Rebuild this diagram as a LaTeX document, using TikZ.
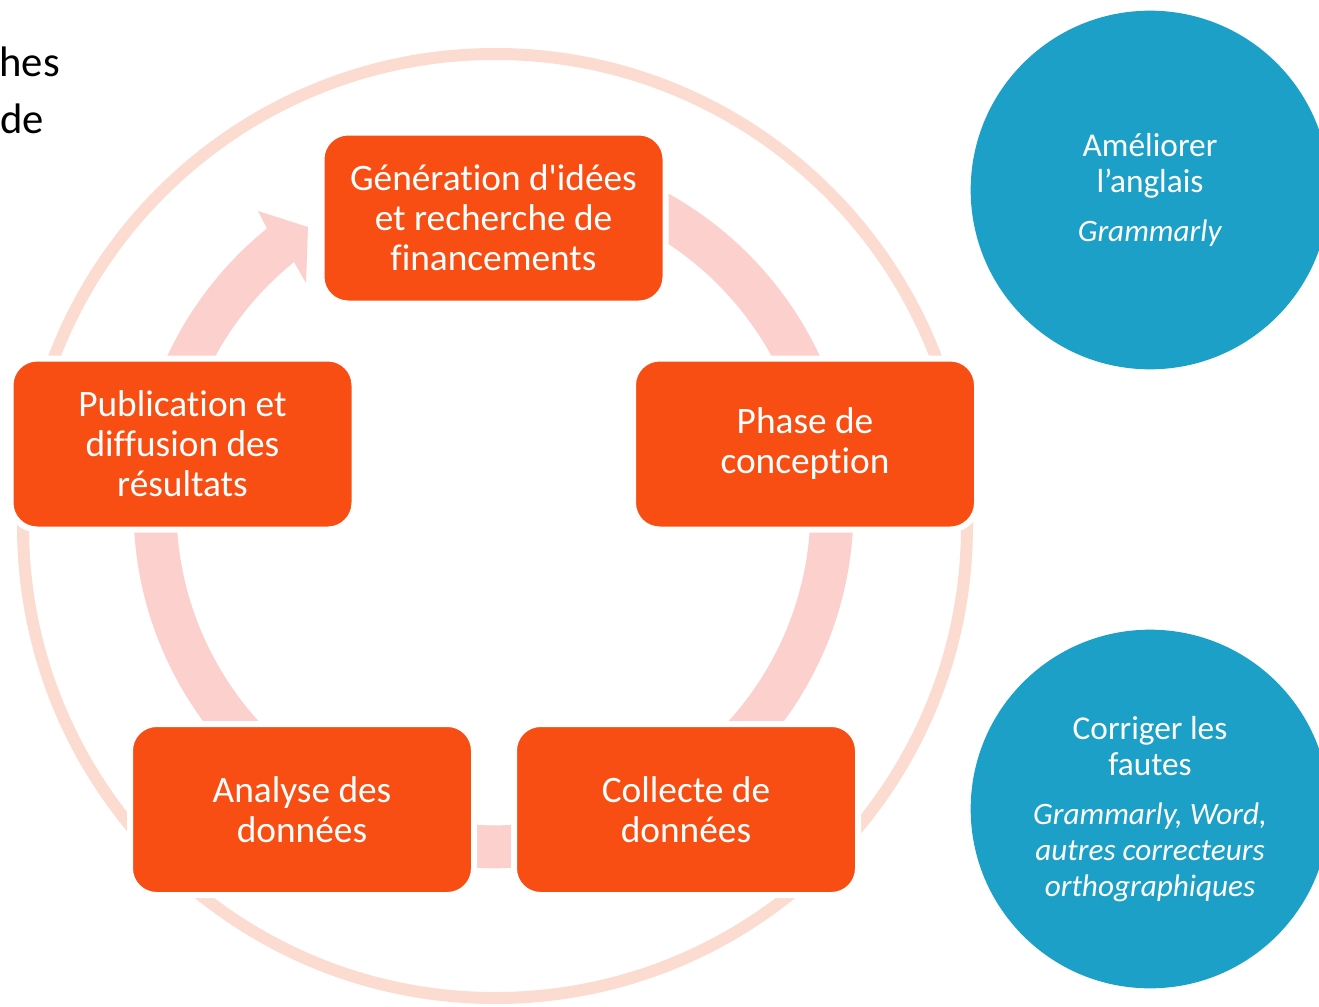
\documentclass[tikz,border=0pt]{standalone}
\usepackage{fontspec}
\setmainfont{Carlito}[Ligatures={NoCommon}]
\definecolor{stageorange}{RGB}{248,78,19}
\definecolor{toolblue}{RGB}{28,160,199}
\definecolor{ringpeach}{RGB}{252,219,208}
\definecolor{cyclepink}{RGB}{251,208,205}
\newcommand{\toolname}[1]{\textit{\fontsize{23.4}{27}\selectfont #1}}
\tikzset{
  stagebox/.style={rounded corners=20pt, fill=stageorange, draw=white, line width=4.5pt,
    minimum width=258pt, minimum height=128.25pt, inner sep=0pt,
    align=center, text=white, font=\fontsize{28}{30}\selectfont},
  toolcircle/.style={circle, fill=toolblue, minimum size=269pt, inner sep=0pt,
    align=center, text=white, font=\fontsize{25}{27}\selectfont},
  cuttext/.style={anchor=base east, inner sep=0pt, font=\fontsize{32}{42}\selectfont}
}
\begin{document}
\begin{tikzpicture}[x=0.75pt,y=0.75pt,yscale=-1,xscale=1]
\useasboundingbox (0,0) rectangle (1319,1006);
\clip (0,0) rectangle (1319,1006);

%Shape: Outer ring
\draw [color=ringpeach, line width=9pt] (495,526) circle [radius=472];
%Shape: Cycle arrow
\fill [cyclepink] (493.5,148.3) arc [start angle=-90, end angle=231, radius=360] -- (258,211) -- (308,227) -- (306,283) -- (294,262) arc [start angle=231, end angle=-90, radius=317] -- cycle;

%Stages
\node [stagebox] (ideas) at (493.5,218) {Génération d\textquotesingle idées\\et recherche de\\financements};
\node [stagebox] (design) at (805,444) {Phase de\\conception};
\node [stagebox] (collect) at (686,809.5) {Collecte de\\données};
\node [stagebox] (analysis) at (302,809.5) {Analyse des\\données};
\node [stagebox] (publish) at (182.5,444) {Publication et\\diffusion des\\résultats};

%Tools
\node [toolcircle] (english) at (1150,190) {Améliorer\\l’anglais\\[10pt]\toolname{Grammarly}};
\node [toolcircle] (spelling) at (1150,809) {Corriger les\\fautes\\[10pt]\toolname{Grammarly, Word,}\\\toolname{autres correcteurs}\\\toolname{orthographiques}};

%Cut title
\node [cuttext] (titlehes) at (60,77) {hes};
\node [cuttext] (titlede) at (44,133) {de};

\end{tikzpicture}
\end{document}
